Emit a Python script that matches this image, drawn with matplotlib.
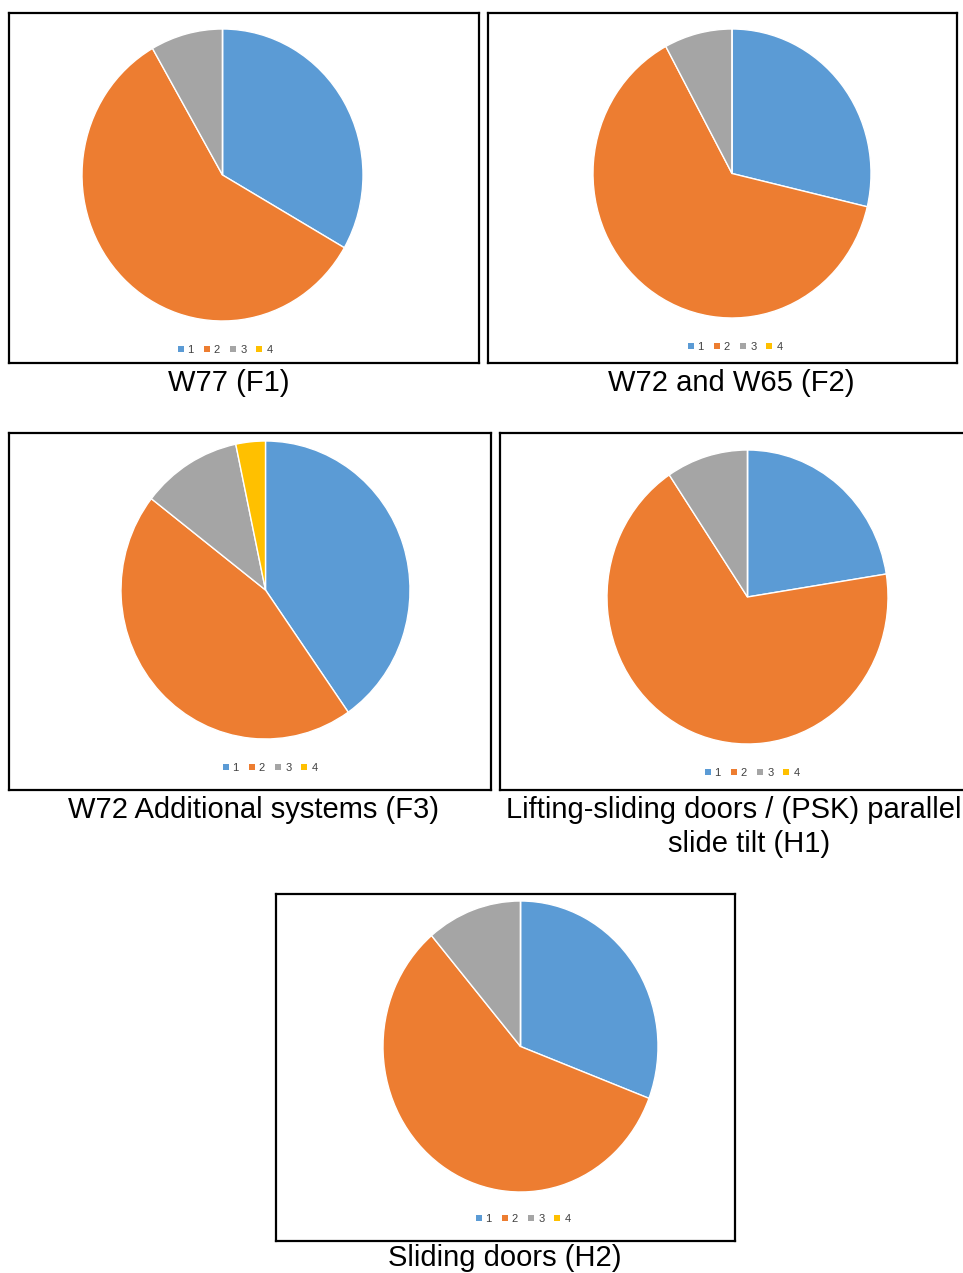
import matplotlib
matplotlib.use("Agg")
import matplotlib.pyplot as plt
from matplotlib.patches import Patch

plt.rcParams['font.family'] = ['Liberation Sans', 'DejaVu Sans']

labels = ['1', '2', '3', '4']
colors = ['#5B9BD5', '#ED7D31', '#A5A5A5', '#FFC000']

f1_values = [33.3, 58.4, 8.3, 0.0]
f2_values = [28.7, 63.4, 7.9, 0.0]
f3_values = [40.3, 45.2, 11.2, 3.3]
h1_values = [22.5, 68.1, 9.4, 0.0]
h2_values = [30.8, 58.0, 11.2, 0.0]

titles = [['W77 (F1)'], ['W72 and W65 (F2)'], ['W72 Additional systems (F3)'],
          ['Lifting-sliding doors / (PSK) parallel', 'slide tilt (H1)'], ['Sliding doors (H2)']]

W, H = 963, 1273
fig = plt.figure(figsize=(W / 100, H / 100), dpi=100)


def rect(x0, y0, x1, y1):
    return [x0 / W, 1 - y1 / H, (x1 - x0) / W, (y1 - y0) / H]


panels = [
    dict(vals=f1_values, frame=(9, 13, 479, 363), pie=(82, 29, 363, 321), leg=(225, 350), cap=[(229, 383)]),
    dict(vals=f2_values, frame=(488, 13, 957, 363), pie=(593, 29, 871, 318), leg=(735, 347), cap=[(731, 383)]),
    dict(vals=f3_values, frame=(9, 433, 491, 790), pie=(121, 441, 410, 739), leg=(270, 768), cap=[(253, 810)]),
    dict(vals=h1_values, frame=(500, 433, 975, 790), pie=(607, 450, 888, 744), leg=(752, 773),
         cap=[(734, 810), (749, 844)]),
    dict(vals=h2_values, frame=(276, 894, 735, 1241), pie=(383, 901, 658, 1192),
         leg=(523, 1219), cap=[(505, 1258)]),
]

for p, title in zip(panels, titles):
    fax = fig.add_axes(rect(*p['frame']))
    fax.set_xticks([])
    fax.set_yticks([])
    for s in fax.spines.values():
        s.set_linewidth(1.6)
        s.set_color('black')
    fax.patch.set_facecolor('white')

    pax = fig.add_axes(rect(*p['pie']))
    pax.pie(p['vals'], colors=colors, startangle=90, counterclock=False,
            wedgeprops=dict(edgecolor='white', linewidth=1.0), radius=1.0)
    pax.set_aspect('auto')
    pax.set_xlim(-1, 1)
    pax.set_ylim(-1, 1)
    pax.axis('off')

    handles = [Patch(facecolor=c, edgecolor='none') for c in colors]
    lx, ly = p['leg']
    fig.legend(handles, labels, loc='center', bbox_to_anchor=(lx / W, 1 - ly / H),
               ncol=4, frameon=False, fontsize=8, handlelength=0.55, handleheight=0.55,
               handletextpad=0.35, columnspacing=0.9, borderpad=0, labelcolor='#404040')

    for line, (cx, cy) in zip(title, p['cap']):
        fig.text(cx / W, 1 - cy / H, line, ha='center', va='center', fontsize=21, color='black')

fig.savefig('out.png', dpi=100, facecolor='white')
